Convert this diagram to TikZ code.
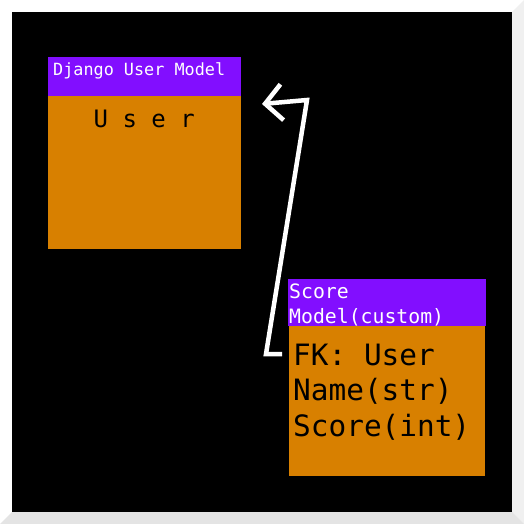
\documentclass[tikz,border=0pt]{standalone}
\usepackage{fontspec}
\newfontfamily\monofont{DejaVu Sans Mono}
\usetikzlibrary{arrows.meta}
\definecolor{hdrpurple}{RGB}{130,14,255}
\definecolor{bodyorange}{RGB}{216,128,0}
\definecolor{rimlight}{RGB}{240,240,240}
\definecolor{rimdark}{RGB}{228,228,228}
\begin{document}
\begin{tikzpicture}[x=1pt,y=-1pt,
  box/.style={anchor=north west, inner sep=0pt, outer sep=0pt},
  hdr/.style={box, fill=hdrpurple},
  body/.style={box, fill=bodyorange},
  lbl/.style={anchor=base west, inner sep=0pt},
  hdrtext/.style={lbl, text=white},
  fktext/.style={lbl, text=black, font=\monofont\fontsize{29.4}{35}\selectfont}]
% frame
\useasboundingbox (0,0) rectangle (524,524);
\fill[white] (0,0) rectangle (524,524);
\fill[rimlight] (524,0) -- (512,12) -- (512,512) -- (524,524) -- cycle;
\fill[rimdark] (0,524) -- (12,512) -- (512,512) -- (524,524) -- cycle;
\fill[black] (12,12) rectangle (512,512);
% django user model
\node[hdr, minimum width=193, minimum height=39] (userhdr) at (48,57) {};
\node[body, minimum width=193, minimum height=153] (userbody) at (48,96) {};
\node[hdrtext, font=\monofont\fontsize{16.8}{20}\selectfont] (userttl) at (53,76) {Django User Model};
\node[lbl, font=\monofont\fontsize{24}{29}\selectfont] (username) at (93.5,127) {U s e r};
% score model
\node[hdr, minimum width=198, minimum height=47] (scorehdr) at (288,279) {};
\node[body, minimum width=196, minimum height=150] (scorebody) at (289,326) {};
\node[hdrtext, font=\monofont\fontsize{19.8}{25}\selectfont] (scorettl) at (289,298) {Score};
\node[hdrtext, font=\monofont\fontsize{19.8}{25}\selectfont] (scorettlb) at (289,323) {Model(custom)};
\node[fktext] (fkuser) at (293,365) {FK: User};
\node[fktext] (fkname) at (293,400.5) {Name(str)};
\node[fktext] (fkscore) at (293,436) {Score(int)};
% foreign key arrow
\coordinate (fkstart) at ([xshift=-11] fkuser.west |- 0,354);
\coordinate (fkend) at ([xshift=21] userbody.north east |- 0,104);
\draw[white, line width=4.5, line join=miter, -{Straight Barb[length=17, width=36, line width=4.5]}]
  (fkstart) -- (266,354) -- (307,100) -- (fkend);
\end{tikzpicture}
\end{document}
